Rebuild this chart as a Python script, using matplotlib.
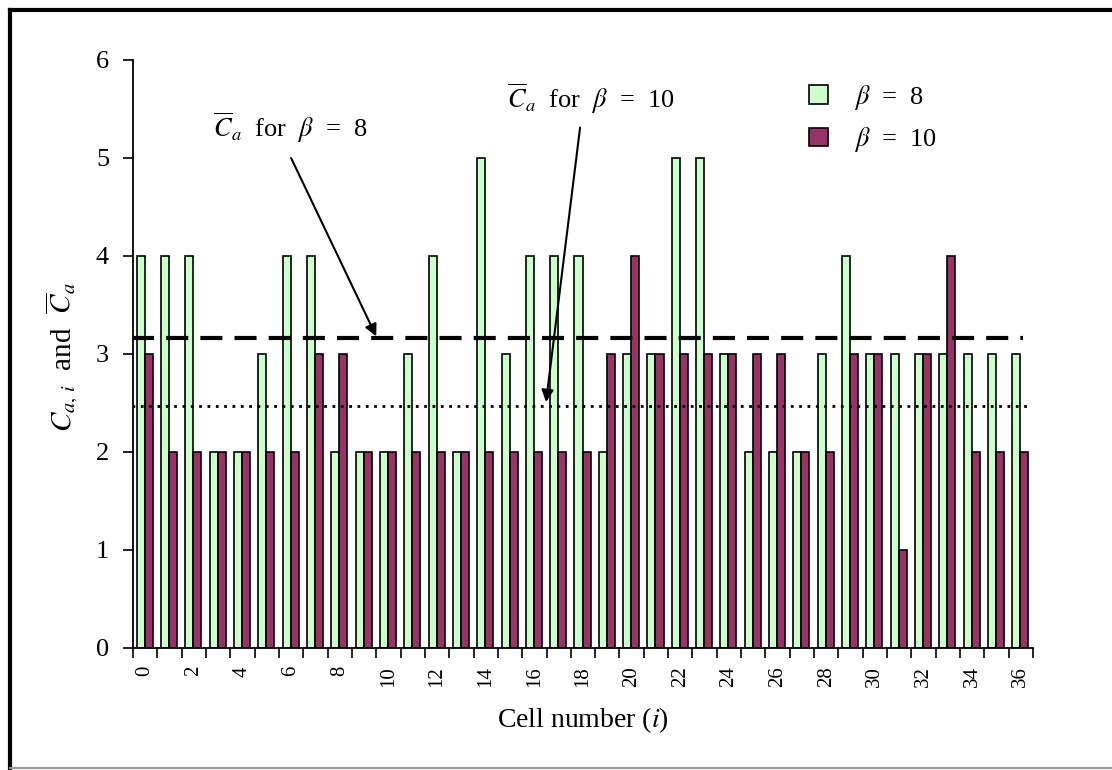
import matplotlib
matplotlib.use("Agg")
import matplotlib.pyplot as plt
import numpy as np
from matplotlib.lines import Line2D
from matplotlib.patches import Patch

plt.rcParams['font.family'] = ['Liberation Serif', 'DejaVu Serif']
plt.rcParams['mathtext.fontset'] = 'stix'

cells = list(range(37))
beta8 = [4, 4, 4, 2, 2, 3, 4, 4, 2, 2,
         2, 3, 4, 2, 5, 3, 4, 4, 4, 2,
         3, 3, 5, 5, 3, 2, 2, 2, 3, 4,
         3, 3, 3, 3, 3, 3, 3]
beta10 = [3, 2, 2, 2, 2, 2, 2, 3, 3, 2,
          2, 2, 2, 2, 2, 2, 2, 2, 2, 3,
          4, 3, 3, 3, 3, 3, 3, 2, 2, 3,
          3, 1, 3, 4, 2, 2, 2]
mean8 = 3.16
mean10 = 2.47
tick_labels = [str(c) if c % 2 == 0 else "" for c in cells]

green = "#CCFFCC"
purple = "#993366"

W, H = 1112, 770
fig = plt.figure(figsize=(W / 100, H / 100), dpi=100)
ax = fig.add_axes([133 / W, 1 - 648 / H, 900 / W, 588 / H])

x = np.array(cells)
bw = 0.33
ax.bar(x - bw / 2 - 0.02, beta8, width=bw, color=green, edgecolor="black", linewidth=1.2, zorder=2)
ax.bar(x + bw / 2 - 0.02, beta10, width=bw, color=purple, edgecolor="black", linewidth=1.2, zorder=2)

ax.hlines(mean8, -0.55, 36.1, colors="black", linewidth=3, linestyles=(0, (5.3, 2.9)), zorder=3)
ax.hlines(mean10, -0.55, 36.3, colors="black", linewidth=2, linestyles=(0, (1, 2)), zorder=3)

ax.set_xlim(-0.5, 36.5)
ax.set_ylim(0, 6)
ax.set_yticks(range(7))
ax.tick_params(axis='y', direction='out', length=7.2, width=1.2, labelsize=19, pad=10)

ax.set_xticks(np.arange(-0.5, 37, 1))
ax.set_xticklabels([])
ax.tick_params(axis='x', which='major', direction='out', length=7, width=1.2)
ax.set_xticks(x, minor=True)
ax.set_xticklabels(tick_labels, minor=True, rotation=90, fontsize=15)
ax.tick_params(axis='x', which='minor', length=0, pad=13)
for lbl in ax.get_xticklabels(minor=True):
    lbl.set_va('top')

for s in ['top', 'right']:
    ax.spines[s].set_visible(False)
for s in ['left', 'bottom']:
    ax.spines[s].set_linewidth(1.3)

ax.set_xlabel(r"Cell number ($i$)", fontsize=20)
ax.xaxis.set_label_coords(0.5, -0.122)
ax.xaxis.label.set_va('center')
ax.set_ylabel(r"$C_{a,\,i}$  and  $\overline{C}_a$", fontsize=21)
ax.yaxis.set_label_coords(-0.079, 0.494)
ax.yaxis.label.set_va('center')

ax.annotate(r"$\overline{C}_a$  for  $\beta$  =  8", xy=(9.5, mean8), xytext=(5.96, 5.31),
            fontsize=19, ha='center', va='center', annotation_clip=False)
ax.annotate("", xy=(9.5, mean8 + 0.02), xytext=(6.0, 5.0),
            arrowprops=dict(arrowstyle="-|>", color="black", lw=1.5, mutation_scale=18,
                            shrinkA=0, shrinkB=0))
ax.annotate(r"$\overline{C}_a$  for  $\beta$  =  10", xy=(16.5, mean10), xytext=(18.33, 5.6),
            fontsize=19, ha='center', va='center', annotation_clip=False)
ax.annotate("", xy=(16.48, mean10 + 0.04), xytext=(17.88, 5.31),
            arrowprops=dict(arrowstyle="-|>", color="black", lw=1.5, mutation_scale=18,
                            shrinkA=0, shrinkB=0))

handles = [Patch(facecolor=green, edgecolor="black", linewidth=1.2),
           Patch(facecolor=purple, edgecolor="black", linewidth=1.2)]
ax.legend(handles, [r"$\beta$  =  8", r"$\beta$  =  10"], loc='upper left',
          bbox_to_anchor=(809 / W, 1 - 83 / H), bbox_transform=fig.transFigure,
          frameon=False, fontsize=19, handlelength=0.72, handleheight=0.72,
          handletextpad=1.0, labelspacing=0.5, borderpad=0, borderaxespad=0)

# outer border
fig.add_artist(Line2D([9.5 / W, 1.0], [1 - 9.5 / H, 1 - 9.5 / H], transform=fig.transFigure,
                      color="black", linewidth=3))
fig.add_artist(Line2D([9.5 / W, 9.5 / W], [1 - 9.5 / H, 0.0], transform=fig.transFigure,
                      color="black", linewidth=3))
fig.add_artist(Line2D([9.5 / W, 1.0], [1 - 768 / H, 1 - 768 / H], transform=fig.transFigure,
                      color="#999999", linewidth=1.5))

fig.savefig("out.png", dpi=100)
